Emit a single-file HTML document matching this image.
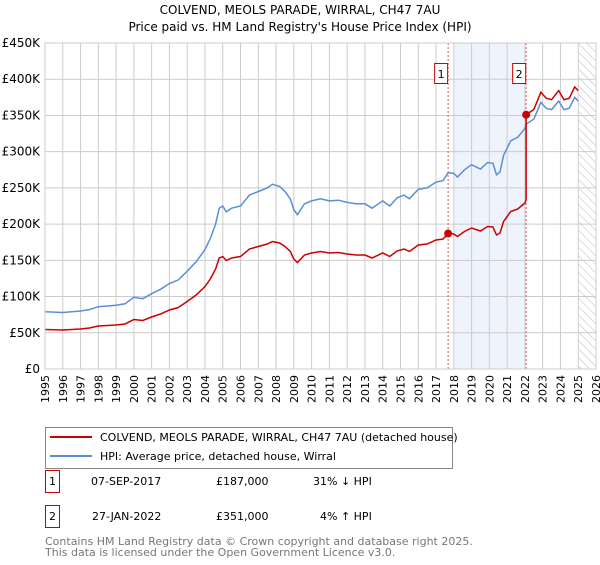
<!DOCTYPE html>
<html><head><meta charset="utf-8"><style>
body{margin:0;background:#fff;font-family:"Liberation Sans","DejaVu Sans",sans-serif;}
svg text{font-family:"DejaVu Sans","Liberation Sans",sans-serif;}
</style></head><body>
<svg id="c" width="600" height="560" viewBox="0 0 600 560" xmlns="http://www.w3.org/2000/svg">
<text x="300" y="14" text-anchor="middle" font-size="12" fill="#000">COLVEND, MEOLS PARADE, WIRRAL, CH47 7AU</text>
<text x="300" y="31" text-anchor="middle" font-size="12" fill="#000">Price paid vs. HM Land Registry's House Price Index (HPI)</text>
<defs><pattern id="hatch" width="6" height="6" patternUnits="userSpaceOnUse" patternTransform="rotate(-45)"><line x1="0" y1="0" x2="0" y2="6" stroke="#bbb" stroke-width="1"/></pattern></defs>
<g id="plot"></g>
<g>
<rect x="45.5" y="427.5" width="407" height="41" fill="#fff" stroke="#888"/>
<line x1="50" y1="437" x2="92" y2="437" stroke="#cc0000" stroke-width="2"/>
<text x="100" y="441" font-size="11">COLVEND, MEOLS PARADE, WIRRAL, CH47 7AU (detached house)</text>
<line x1="50" y1="456" x2="92" y2="456" stroke="#5b8fd4" stroke-width="2"/>
<text x="100" y="460" font-size="11">HPI: Average price, detached house, Wirral</text>
</g>
<g font-size="11">
<rect x="45.5" y="470.5" width="14" height="22" fill="#fff" stroke="#cc0000"/>
<text x="52.5" y="485" text-anchor="middle">1</text>
<text x="91" y="485">07-SEP-2017</text><text x="216" y="485">£187,000</text><text x="313" y="485">31% ↓ HPI</text>
<rect x="45.5" y="505.5" width="14" height="22" fill="#fff" stroke="#cc0000"/>
<text x="52.5" y="520" text-anchor="middle">2</text>
<text x="92" y="520">27-JAN-2022</text><text x="216" y="520">£351,000</text><text x="320" y="520">4% ↑ HPI</text>
</g>
<text x="45" y="545" font-size="11" fill="#777">Contains HM Land Registry data © Crown copyright and database right 2025.</text>
<text x="45" y="556" font-size="11" fill="#777">This data is licensed under the Open Government Licence v3.0.</text>
</svg>
<script>
const hpiYears=[1995,1996,1997,1997.5,1998,1999,1999.5,2000,2000.5,2001,2001.5,2002,2002.5,2003,2003.5,2004,2004.3,2004.6,2004.8,2005,2005.2,2005.5,2006,2006.5,2007,2007.5,2007.8,2008.2,2008.5,2008.8,2009,2009.2,2009.6,2010,2010.5,2011,2011.5,2012,2012.5,2013,2013.4,2014,2014.4,2014.8,2015.2,2015.5,2016,2016.5,2017,2017.4,2017.68,2018,2018.2,2018.6,2019,2019.5,2019.9,2020.2,2020.4,2020.6,2020.8,2021.2,2021.6,2022.0,2022.07,2022.5,2022.9,2023.2,2023.5,2023.9,2024.2,2024.5,2024.8,2025.0];
const hpiValues=[79,78,80,82,86,88,90,99,97,104,110,118,123,135,148,165,180,200,222,225,217,222,225,240,245,250,255,252,245,235,220,213,228,232,235,232,233,230,228,228,222,232,225,236,240,235,248,250,258,260,271,270,265,275,282,276,285,284,268,272,295,315,320,332,338,345,368,360,358,370,358,360,375,370];
const saleDates=[2017.68,2022.07];
const salePrices=[187,351];
const saleLabels=["1","2"];
const yTicks=[0,50,100,150,200,250,300,350,400,450];
const yTickLabels=["£0","£50K","£100K","£150K","£200K","£250K","£300K","£350K","£400K","£450K"];
const xTicks=[1995,1996,1997,1998,1999,2000,2001,2002,2003,2004,2005,2006,2007,2008,2009,2010,2011,2012,2013,2014,2015,2016,2017,2018,2019,2020,2021,2022,2023,2024,2025,2026];

const NS="http://www.w3.org/2000/svg";
const g=document.getElementById('plot');
const X0=45,X1=596,Y0=369,Y1=43;
const xs=t=>X0+(t-1995)/(2026-1995)*(X1-X0);
const ys=v=>Y0-v/450*(Y0-Y1);
function mk(tag,a,parent){const e=document.createElementNS(NS,tag);for(const k in a)e.setAttribute(k,a[k]);(parent||g).appendChild(e);return e;}
function hpiAt(t){for(let i=1;i<hpiYears.length;i++){if(t<=hpiYears[i]){const f=(t-hpiYears[i-1])/(hpiYears[i]-hpiYears[i-1]);return hpiValues[i-1]+f*(hpiValues[i]-hpiValues[i-1]);}}return hpiValues[hpiValues.length-1];}

let e=mk('rect',{x:xs(2018),y:Y1,width:xs(saleDates[1])-xs(2018),height:Y0-Y1,fill:'#eef3fc'});

e=mk('rect',{x:xs(2025),y:Y1,width:X1-xs(2025),height:Y0-Y1,fill:'url(#hatch)'});

xTicks.forEach(t=>{
 let l=mk('line',{x1:xs(t),x2:xs(t),y1:Y1,y2:Y0,stroke:'#ccc','stroke-width':1});
 
 let tx=mk('text',{x:0,y:0,'font-size':11,'text-anchor':'end',transform:`translate(${xs(t)+4},${Y0+6}) rotate(-90)`});
 tx.textContent=t;
 
});
yTicks.forEach((v,i)=>{
 let l=mk('line',{x1:X0,x2:X1,y1:ys(v),y2:ys(v),stroke:'#ccc','stroke-width':1});
 
 let tx=mk('text',{x:X0-5,y:ys(v)+4,'font-size':12,'text-anchor':'end'});
 tx.textContent=yTickLabels[i];
 
});
saleDates.forEach(d=>{
 let l=mk('line',{x1:xs(d),x2:xs(d),y1:Y1,y2:Y0,stroke:'#e06060','stroke-width':1,'stroke-dasharray':'2,2'});
 
});
let hp=hpiYears.map((t,i)=>`${xs(t).toFixed(1)},${ys(hpiValues[i]).toFixed(1)}`).join(' ');
e=mk('polyline',{points:hp,fill:'none',stroke:'#5b8fd4','stroke-width':1.5});

let r0=salePrices[0]/hpiAt(saleDates[0]),r1=salePrices[1]/hpiAt(saleDates[1]);
let pts=[];
hpiYears.forEach((t,i)=>{if(t<saleDates[1])pts.push([t,hpiValues[i]*r0]);});
pts.push([saleDates[1],hpiAt(saleDates[1])*r0]);
pts.push([saleDates[1],salePrices[1]]);
hpiYears.forEach((t,i)=>{if(t>saleDates[1])pts.push([t,hpiValues[i]*r1]);});
e=mk('polyline',{points:pts.map(p=>`${xs(p[0]).toFixed(1)},${ys(p[1]).toFixed(1)}`).join(' '),fill:'none',stroke:'#cc0000','stroke-width':1.5});

saleDates.forEach((d,i)=>{
 let c=mk('circle',{cx:xs(d),cy:ys(salePrices[i]),r:4,fill:'#cc0000'});
 
 let b=mk('rect',{x:xs(d)-13.5,y:63.5,width:13,height:20,fill:'#fff',stroke:'#cc0000'});
 
 let tx=mk('text',{x:xs(d)-7,y:78,'font-size':11,'text-anchor':'middle'});
 tx.textContent=saleLabels[i];
 
});
e=mk('rect',{x:X0,y:Y1,width:X1-X0,height:Y0-Y1,fill:'none',stroke:'#ccc'});

</script>
</body></html>
